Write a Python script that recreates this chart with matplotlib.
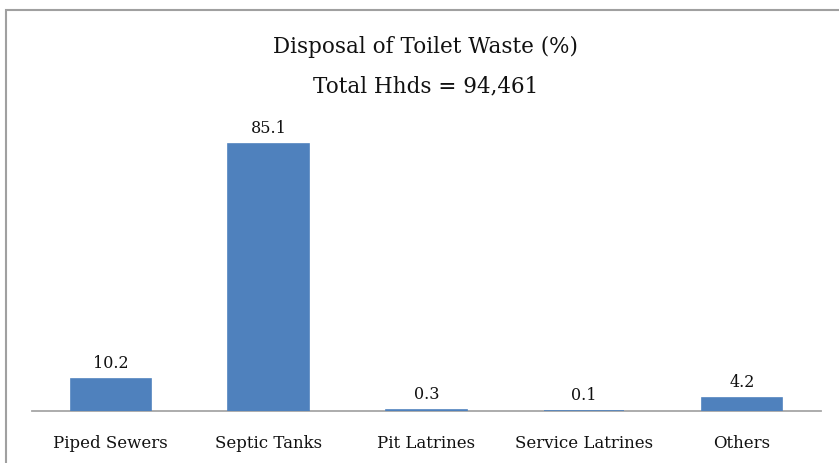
import matplotlib.pyplot as plt
from matplotlib.patches import Rectangle

categories = ['Piped Sewers', 'Septic Tanks', 'Pit Latrines', 'Service Latrines', 'Others']
shares = [10.2, 85.1, 0.3, 0.1, 4.2]
title_lines = ['Disposal of Toilet Waste (%)', 'Total Hhds = 94,461']

plt.rcParams['font.family'] = 'DejaVu Serif'

fig = plt.figure(figsize=(8.39, 4.63), dpi=100)
ax = fig.add_axes([0.038, 0.1123, 0.9405, 0.6091])

x = range(len(categories))
# bars above the baseline spine so the tiny shares still show
bars = ax.bar(x, shares, width=0.51, color='#4F81BD',
              edgecolor='#4F81BD', linewidth=1.2, zorder=3)
for b, v in zip(bars, shares):
    ax.annotate('{:.1f}'.format(v), (b.get_x() + b.get_width() / 2, v),
                xytext=(0, 5), textcoords='offset points',
                ha='center', va='bottom', fontsize=11.5, color='#111111')

ax.set_xlim(-0.5, len(categories) - 0.5)
ax.set_ylim(0, 90)
ax.set_xticks(list(x))
ax.set_xticklabels(categories, fontsize=12, color='#111111')
ax.tick_params(axis='x', length=0, pad=17)
ax.set_yticks([])
for s in ['top', 'left', 'right']:
    ax.spines[s].set_visible(False)
ax.spines['bottom'].set_color('#A6A6A6')
ax.spines['bottom'].set_linewidth(1.3)

fig.text(0.507, 0.898, title_lines[0], ha='center', va='center', fontsize=15.5, color='#111111')
fig.text(0.507, 0.814, title_lines[1], ha='center', va='center', fontsize=15.5, color='#111111')

# outer frame, cut off at the right and bottom edges
fig.patches.append(Rectangle((6 / 839, -0.05), 1.0, 1 - 10 / 463 + 0.05,
                             transform=fig.transFigure, fill=False,
                             edgecolor='#A0A0A0', linewidth=1.5))

fig.savefig('out.png', dpi=100)
